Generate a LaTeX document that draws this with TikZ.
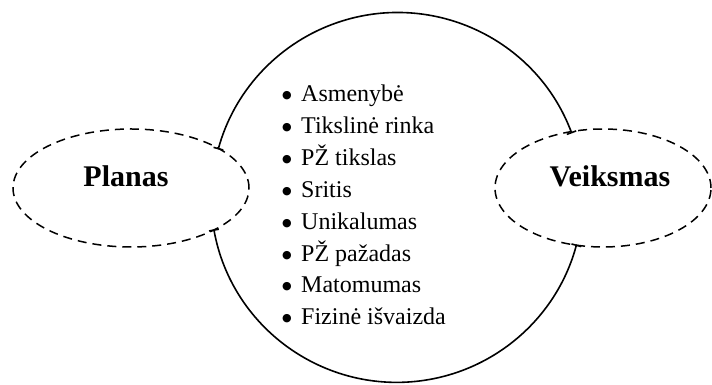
\documentclass[tikz,border=0pt]{standalone}
\usepackage{fontspec}
\setmainfont{Liberation Serif}
\newfontfamily\dotfont{DejaVu Sans}
\usepackage{tikz}
\usetikzlibrary{arrows.meta,positioning,shapes.geometric}
\newcommand{\itm}[1]{\makebox[19pt][l]{\raisebox{3pt}{\dotfont\fontsize{11}{11}\selectfont ●}}#1}
\tikzset{ring/.style={circle,minimum size=372pt,inner sep=0pt,outer sep=0pt},
  rim/.style={line width=1.6pt,{Bar[width=10pt,line width=1.6pt]}-{Bar[width=10pt,line width=1.6pt]}},
  cloud/.style={ellipse,draw,line width=1.5pt,dash pattern=on 9pt off 6pt,
    inner sep=0pt,outer sep=0pt},
  title/.style={font=\fontsize{30}{36}\selectfont\bfseries},
  items/.style={align=left,font=\fontsize{24}{31.9}\selectfont,inner sep=0pt}}

\begin{document}
\begin{tikzpicture}[x=1pt,y=1pt]
\useasboundingbox (0,0) rectangle (712,385);
\node[ring] (whole) at (397,188) {};
% the outline is split where the two dashed ovals sit on it
\draw[rim] (whole.20.5) arc[start angle=20.5,end angle=164.7,radius=186pt];
\draw[rim] (whole.190.2) arc[start angle=190.2,end angle=345,radius=186pt];
\node[cloud,minimum width=236pt,minimum height=118pt] (plan) at (131,197) {};
\node[cloud,minimum width=216pt,minimum height=118pt] (act) at (603,197) {};
\node[title] at ([xshift=-5pt,yshift=12pt]plan.center) {Planas};
\node[title] at ([xshift=7pt,yshift=12pt]act.center) {Veiksmas};
\node[items] (traits) at ([xshift=-33pt,yshift=-8pt]whole.center)
{\itm{Asmenybė}\\\itm{Tikslinė rinka}\\\itm{PŽ tikslas}\\\itm{Sritis}\\
 \itm{Unikalumas}\\\itm{PŽ pažadas}\\\itm{Matomumas}\\\itm{Fizinė išvaizda}};
\end{tikzpicture}
\end{document}
